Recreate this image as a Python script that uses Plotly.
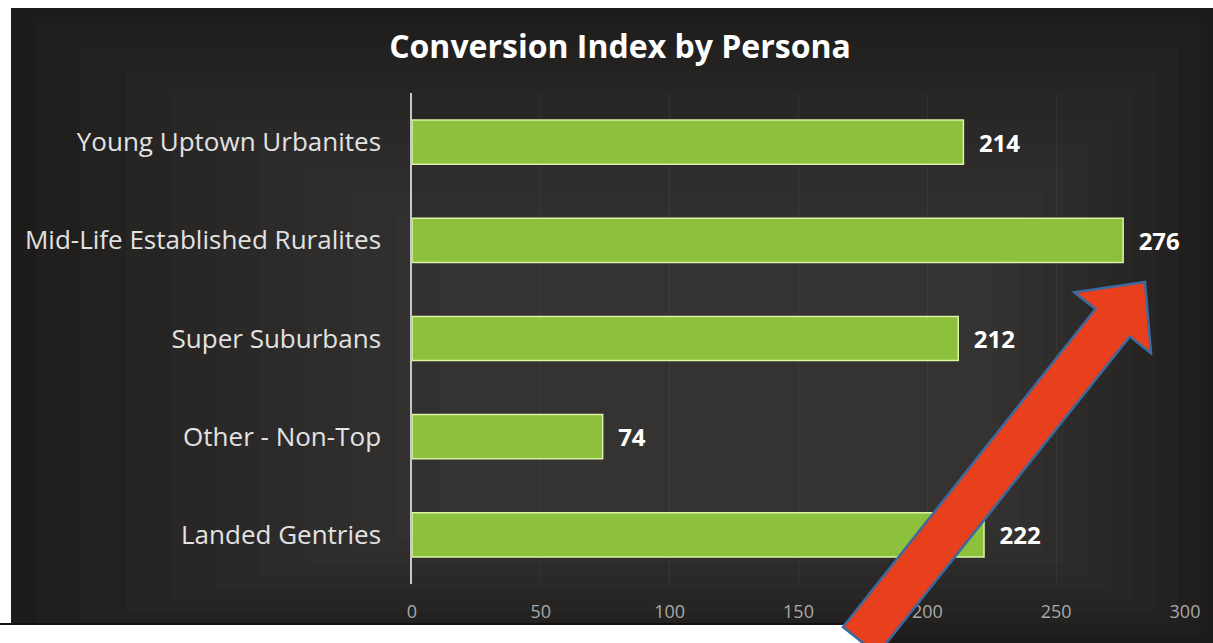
import plotly.graph_objects as go
import math

personas = ["Young Uptown Urbanites", "Mid-Life Established Ruralites", "Super Suburbans",
            "Other - Non-Top", "Landed Gentries"]
index_values = [214, 276, 212, 74, 222]
x_ticks = [0, 50, 100, 150, 200, 250, 300]

W, H = 1213, 643
L, R, T, B = 412, 28, 93, 59
PW, PH = W - L - R, H - T - B


def px(X):
    return (X - L) / PW


def py(Y):
    return (H - B - Y) / PH


def path(points):
    return "M " + " L ".join(f"{px(x):.5f},{py(y):.5f}" for x, y in points) + " Z"


fig = go.Figure()
fig.add_trace(go.Bar(
    y=personas, x=index_values, orientation="h",
    marker=dict(color="#8dc03c", line=dict(color="#dcf2a4", width=1.5)),
    width=0.45,
    text=["\u00a0\u00a0" + str(v) for v in index_values], textposition="outside",
    textfont=dict(family="Open Sans", size=24, color="#ffffff", weight="bold"),
    cliponaxis=False,
))

shapes = []
# dark board
shapes.append(dict(type="rect", xref="paper", yref="paper", x0=px(11), x1=px(1230), y0=py(8), y1=py(660),
                   fillcolor="#1e1c1a", line=dict(width=0), layer="below"))
# soft glow toward the centre
for i in range(10):
    ix = 25 + i * 45
    iy = 15 + i * 24
    shapes.append(dict(type="rect", xref="paper", yref="paper",
                       x0=px(11 + ix), x1=px(1213 - ix * 0.5),
                       y0=py(8 + iy), y1=py(643 - iy * 0.5),
                       fillcolor="rgba(130,130,130,0.028)", line=dict(width=0), layer="below"))
# white paper at bottom left
shapes.append(dict(type="path", xref="paper", yref="paper",
                   path=path([(-5, 624), (843, 624), (866, 648), (-5, 648)]),
                   fillcolor="#ffffff", line=dict(width=0), layer="below"))
shapes.append(dict(type="line", xref="paper", yref="paper", x0=px(0), x1=px(843), y0=py(624), y1=py(624),
                   line=dict(color="#111111", width=2), layer="below"))

# red arrow
tail_left = (843.0, 627.0)
shaft_w = 44.0
tip = (1145.0, 282.0)
ux, uy = 0.622, -0.783
nx, ny = 0.783, 0.622
tc = (tail_left[0] + shaft_w / 2 * nx, tail_left[1] + shaft_w / 2 * ny)
dx, dy = tip[0] - tc[0], tip[1] - tc[1]
ln = math.hypot(dx, dy)
ux, uy = dx / ln, dy / ln
nx, ny = -uy, ux
head_len, head_w = 52.0, 98.0
base = (tip[0] - head_len * ux, tip[1] - head_len * uy)


def off(p, a, b):
    return (p[0] + a * nx + b * ux, p[1] + a * ny + b * uy)


pts = [
    off(tc, -shaft_w / 2, 0), off(base, -shaft_w / 2, 0), off(base, -head_w / 2, 0),
    tip, off(base, head_w / 2, 0), off(base, shaft_w / 2, 0), off(tc, shaft_w / 2, 0),
]
shapes.append(dict(type="path", xref="paper", yref="paper", path=path(pts),
                   fillcolor="#e8401c", line=dict(color="#3a6aa0", width=2.5), layer="above"))

fig.update_layout(
    width=W, height=H,
    margin=dict(l=L, r=R, t=T, b=B),
    paper_bgcolor="#ffffff", plot_bgcolor="rgba(0,0,0,0)",
    showlegend=False,
    bargap=0.55,
    title=dict(text="<b>Conversion Index by Persona</b>", x=620 / W, xanchor="center",
               y=1 - 47 / H, yanchor="middle", yref="container",
               font=dict(family="Open Sans", size=32, color="#ffffff")),
    shapes=shapes,
    xaxis=dict(range=[0, 300], tickvals=x_ticks, ticktext=[str(t) for t in x_ticks],
               showgrid=True, gridcolor="rgba(255,255,255,0.05)", zeroline=False,
               showline=False, ticks="", ticklabelstandoff=15,
               tickfont=dict(family="Open Sans", size=18, color="#a9a9a9")),
    yaxis=dict(autorange="reversed", showgrid=False, zeroline=False,
               showline=True, linecolor="#c8c8c8", linewidth=1.5, ticks="",
               ticklabelstandoff=24,
               tickfont=dict(family="Open Sans", size=26, color="#e2e2e2")),
)

fig.write_html("out.html")
